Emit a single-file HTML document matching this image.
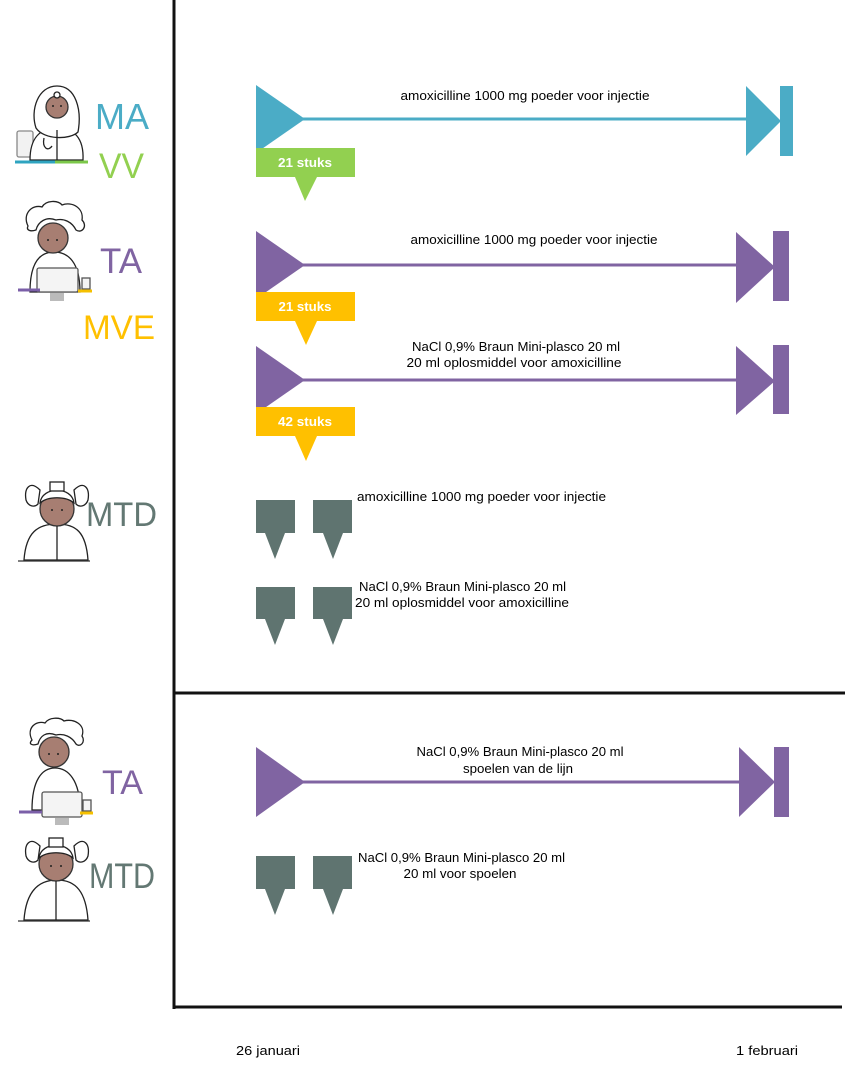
<!DOCTYPE html>
<html>
<head>
<meta charset="utf-8">
<style>
html,body{margin:0;padding:0;background:#fff;}
svg{display:block;}
text{font-family:"Liberation Sans",sans-serif;}
</style>
</head>
<body>
<svg width="845" height="1068" viewBox="0 0 845 1068" xmlns="http://www.w3.org/2000/svg">
<rect width="845" height="1068" fill="#fff"/>

<!-- axes -->
<line x1="174" y1="0" x2="174" y2="1009" stroke="#111" stroke-width="3"/>
<line x1="173" y1="693" x2="845" y2="693" stroke="#111" stroke-width="3"/>
<line x1="173" y1="1007" x2="842" y2="1007" stroke="#111" stroke-width="3"/>

<!-- ===== MA row ===== -->
<line x1="300" y1="119" x2="750" y2="119" stroke="#4BACC6" stroke-width="3"/>
<polygon points="256,85 305,119 256,153" fill="#4BACC6"/>
<polygon points="746,86 781,121 746,156" fill="#4BACC6"/>
<rect x="780" y="86" width="13" height="70" fill="#4BACC6"/>
<text x="525" y="100" font-size="13" text-anchor="middle" textLength="249" lengthAdjust="spacingAndGlyphs" fill="#000">amoxicilline 1000 mg poeder voor injectie</text>
<path d="M256,148 H355 V177 H317 L305,201 L295,177 H256 Z" fill="#92D050"/>
<text x="305" y="167" font-size="13" font-weight="bold" text-anchor="middle" textLength="54" lengthAdjust="spacingAndGlyphs" fill="#fff">21 stuks</text>

<!-- ===== TA row 1 ===== -->
<line x1="300" y1="265" x2="740" y2="265" stroke="#8064A2" stroke-width="3"/>
<polygon points="256,231 305,265 256,299" fill="#8064A2"/>
<polygon points="736,232 775,267 736,303" fill="#8064A2"/>
<rect x="773" y="231" width="16" height="70" fill="#8064A2"/>
<text x="534" y="244" font-size="13" text-anchor="middle" textLength="247" lengthAdjust="spacingAndGlyphs" fill="#000">amoxicilline 1000 mg poeder voor injectie</text>
<path d="M256,292 H355 V321 H317 L306,345 L295,321 H256 Z" fill="#FFC000"/>
<text x="305" y="311" font-size="13" font-weight="bold" text-anchor="middle" textLength="53" lengthAdjust="spacingAndGlyphs" fill="#fff">21 stuks</text>

<!-- ===== TA row 2 ===== -->
<line x1="300" y1="380" x2="740" y2="380" stroke="#8064A2" stroke-width="3"/>
<polygon points="256,346 305,380 256,414" fill="#8064A2"/>
<polygon points="736,346 775,381 736,415" fill="#8064A2"/>
<rect x="773" y="345" width="16" height="69" fill="#8064A2"/>
<text x="516" y="351" font-size="13" text-anchor="middle" textLength="208" lengthAdjust="spacingAndGlyphs" fill="#000">NaCl 0,9% Braun Mini-plasco 20 ml</text>
<text x="514" y="367" font-size="13" text-anchor="middle" textLength="215" lengthAdjust="spacingAndGlyphs" fill="#000">20 ml oplosmiddel voor amoxicilline</text>
<path d="M256,407 H355 V436 H317 L306,461 L295,436 H256 Z" fill="#FFC000"/>
<text x="305" y="426" font-size="13" font-weight="bold" text-anchor="middle" textLength="54" lengthAdjust="spacingAndGlyphs" fill="#fff">42 stuks</text>

<!-- ===== MTD rows ===== -->
<g fill="#5F7470">
<path d="M256,500 H295 V533 H285 L275,559 L265,533 H256 Z"/>
<path d="M313,500 H352 V533 H343 L333,559 L323,533 H313 Z"/>
<path d="M256,587 H295 V619 H285 L275,645 L265,619 H256 Z"/>
<path d="M313,587 H352 V619 H343 L333,645 L323,619 H313 Z"/>
<path d="M256,856 H295 V889 H285 L275,915 L265,889 H256 Z"/>
<path d="M313,856 H352 V889 H343 L333,915 L323,889 H313 Z"/>
</g>
<text x="357" y="501" font-size="13" textLength="249" lengthAdjust="spacingAndGlyphs" fill="#000">amoxicilline 1000 mg poeder voor injectie</text>
<text x="359" y="591" font-size="13" textLength="207" lengthAdjust="spacingAndGlyphs" fill="#000">NaCl 0,9% Braun Mini-plasco 20 ml</text>
<text x="355" y="607" font-size="13" textLength="214" lengthAdjust="spacingAndGlyphs" fill="#000">20 ml oplosmiddel voor amoxicilline</text>

<!-- ===== bottom TA ===== -->
<line x1="300" y1="782" x2="742" y2="782" stroke="#8064A2" stroke-width="3"/>
<polygon points="256,747 305,782 256,817" fill="#8064A2"/>
<polygon points="739,747 775,782 739,817" fill="#8064A2"/>
<rect x="774" y="747" width="15" height="70" fill="#8064A2"/>
<text x="520" y="756" font-size="13" text-anchor="middle" textLength="207" lengthAdjust="spacingAndGlyphs" fill="#000">NaCl 0,9% Braun Mini-plasco 20 ml</text>
<text x="518" y="773" font-size="13" text-anchor="middle" textLength="110" lengthAdjust="spacingAndGlyphs" fill="#000">spoelen van de lijn</text>

<!-- bottom MTD -->
<text x="358" y="862" font-size="13" textLength="207" lengthAdjust="spacingAndGlyphs" fill="#000">NaCl 0,9% Braun Mini-plasco 20 ml</text>
<text x="460" y="878" font-size="13" text-anchor="middle" textLength="113" lengthAdjust="spacingAndGlyphs" fill="#000">20 ml voor spoelen</text>

<!-- dates -->
<text x="236" y="1055" font-size="13" textLength="64" lengthAdjust="spacingAndGlyphs" fill="#000">26 januari</text>
<text x="736" y="1055" font-size="13" textLength="62" lengthAdjust="spacingAndGlyphs" fill="#000">1 februari</text>

<!-- ===== left labels ===== -->
<text x="95" y="129" font-size="36" textLength="54" lengthAdjust="spacingAndGlyphs" fill="#4BACC6">MA</text>
<text x="99" y="178" font-size="35" textLength="45" lengthAdjust="spacingAndGlyphs" fill="#92D050">VV</text>
<text x="100" y="273" font-size="35" textLength="42" lengthAdjust="spacingAndGlyphs" fill="#8064A2">TA</text>
<text x="83" y="339" font-size="34" textLength="72" lengthAdjust="spacingAndGlyphs" fill="#FFC000">MVE</text>
<text x="86" y="526" font-size="34" textLength="71" lengthAdjust="spacingAndGlyphs" fill="#637873">MTD</text>
<text x="102" y="794" font-size="34" textLength="41" lengthAdjust="spacingAndGlyphs" fill="#8064A2">TA</text>
<text x="89" y="888" font-size="35" textLength="66" lengthAdjust="spacingAndGlyphs" fill="#637873">MTD</text>

<!-- ===== people illustrations ===== -->
<!-- Person 1: doctor with hijab -->
<g stroke="#222" stroke-width="1.3" fill="#fff">
  <rect x="17" y="131" width="16" height="26" rx="2" fill="#f2f2f2" stroke="#888"/>
  <path d="M30,160 C30,138 40,128 57,128 C74,128 84,138 83,160 Z"/>
  <path d="M36,128 C30,110 38,86 57,86 C76,86 82,110 78,132 C70,140 44,140 36,128 Z"/>
  <circle cx="57" cy="107" r="11" fill="#A77E72" stroke="#333"/>
  <circle cx="57" cy="95" r="3" fill="#fff"/>
  <path d="M44,138 C42,148 48,152 52,146" fill="none"/>
  <line x1="57" y1="130" x2="57" y2="160"/>
</g>
<circle cx="53" cy="106" r="1" fill="#222"/>
<circle cx="61" cy="106" r="1" fill="#222"/>
<line x1="15" y1="162" x2="55" y2="162" stroke="#2FA4C0" stroke-width="3"/>
<line x1="55" y1="162" x2="88" y2="162" stroke="#7CC84A" stroke-width="3"/>

<!-- Person 2: TA curly hair with laptop -->
<g stroke="#222" stroke-width="1.3" fill="#fff">
  <path d="M30,292 C30,262 40,252 54,252 C68,252 80,262 80,292 Z"/>
  <circle cx="53" cy="238" r="15" fill="#A77E72" stroke="#333"/>
  <path d="M28,226 C22,214 32,204 42,207 C46,200 58,200 62,205 C72,201 84,208 82,220 C88,226 82,234 76,230 C72,222 64,218 56,220 C46,216 38,222 36,230 C30,232 26,230 28,226 Z"/>
  <rect x="37" y="268" width="41" height="24" rx="2" fill="#f4f4f4" stroke="#555"/>
  <rect x="82" y="278" width="8" height="11" fill="#f4f4f4" stroke="#555"/>
</g>
<circle cx="48" cy="240" r="1" fill="#222"/>
<circle cx="57" cy="240" r="1" fill="#222"/>
<rect x="50" y="293" width="14" height="8" fill="#bbb"/>
<line x1="18" y1="290" x2="40" y2="290" stroke="#7B5FA8" stroke-width="3"/>
<line x1="78" y1="291" x2="92" y2="291" stroke="#F5C000" stroke-width="3"/>

<!-- Person 3: MTD nurse -->
<g stroke="#222" stroke-width="1.3" fill="#fff">
  <path d="M24,560 C26,532 38,524 57,524 C76,524 86,532 88,560 Z"/>
  <path d="M40,490 C30,480 24,488 26,500 C28,506 34,508 38,504 Z"/>
  <path d="M74,490 C84,480 90,488 88,500 C86,506 80,508 76,504 Z"/>
  <circle cx="57" cy="509" r="17" fill="#A77E72" stroke="#333"/>
  <path d="M40,503 C42,486 72,486 74,503 C66,496 48,496 40,503 Z"/>
  <rect x="50" y="482" width="14" height="9" fill="#fff"/>
  <line x1="57" y1="526" x2="57" y2="560"/>
</g>
<circle cx="52" cy="510" r="1" fill="#222"/>
<circle cx="62" cy="510" r="1" fill="#222"/>
<line x1="18" y1="561" x2="90" y2="561" stroke="#333" stroke-width="1.3"/>

<!-- Person 4: TA bottom -->
<g stroke="#222" stroke-width="1.3" fill="#fff">
  <path d="M32,810 C32,780 42,768 55,768 C68,768 80,780 80,810 Z"/>
  <circle cx="54" cy="752" r="15" fill="#A77E72" stroke="#333"/>
  <path d="M32,740 C26,728 36,720 45,723 C49,717 60,717 64,721 C74,718 86,725 82,736 C86,742 80,748 76,744 C72,737 64,733 56,735 C46,731 40,736 38,744 C32,746 28,744 32,740 Z"/>
  <rect x="42" y="792" width="40" height="25" rx="2" fill="#f4f4f4" stroke="#555"/>
  <rect x="83" y="800" width="8" height="11" fill="#f4f4f4" stroke="#555"/>
</g>
<circle cx="49" cy="754" r="1" fill="#222"/>
<circle cx="58" cy="754" r="1" fill="#222"/>
<rect x="55" y="818" width="14" height="7" fill="#bbb"/>
<line x1="19" y1="812" x2="42" y2="812" stroke="#7B5FA8" stroke-width="3"/>
<line x1="80" y1="813" x2="93" y2="813" stroke="#F5C000" stroke-width="3"/>

<!-- Person 5: MTD bottom -->
<g stroke="#222" stroke-width="1.3" fill="#fff">
  <path d="M24,920 C26,892 38,880 57,880 C76,880 86,892 88,920 Z"/>
  <path d="M40,846 C30,836 24,844 26,856 C28,862 34,864 38,860 Z"/>
  <path d="M74,846 C84,836 90,844 88,856 C86,862 80,864 76,860 Z"/>
  <circle cx="56" cy="864" r="17" fill="#A77E72" stroke="#333"/>
  <path d="M39,858 C41,841 71,841 73,858 C65,851 47,851 39,858 Z"/>
  <rect x="49" y="838" width="14" height="9" fill="#fff"/>
  <line x1="56" y1="881" x2="56" y2="920"/>
</g>
<circle cx="51" cy="866" r="1" fill="#222"/>
<circle cx="61" cy="866" r="1" fill="#222"/>
<line x1="18" y1="921" x2="90" y2="921" stroke="#333" stroke-width="1.3"/>

</svg>
</body>
</html>
